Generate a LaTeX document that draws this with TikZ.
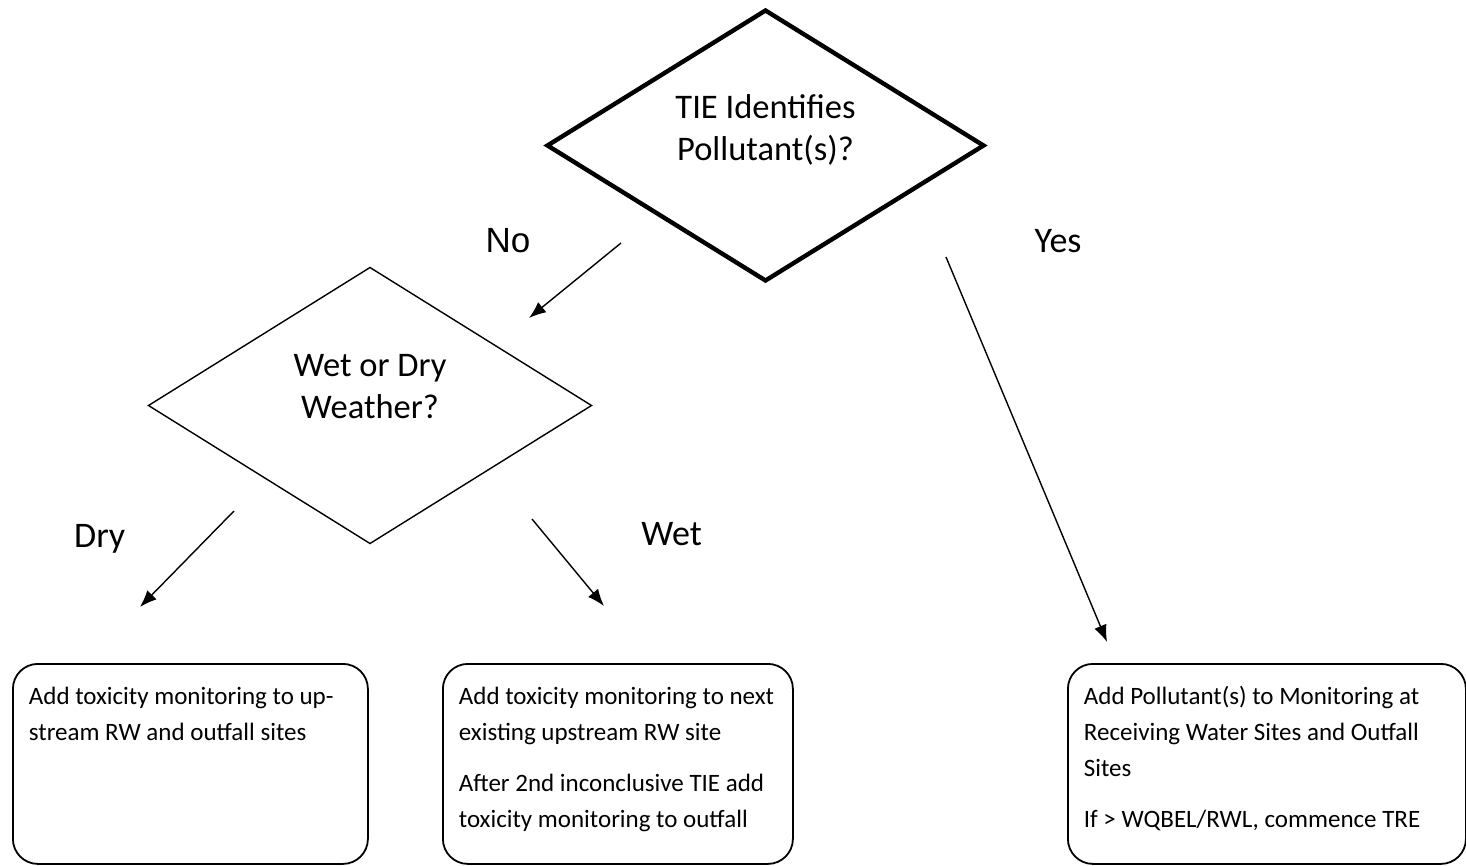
\documentclass[tikz,border=0pt]{standalone}
\usepackage{fontspec}
\setmainfont{Carlito}
\newfontfamily\arialfont{Liberation Sans}
\usetikzlibrary{arrows.meta,shapes.geometric}

\begin{document}
\begin{tikzpicture}[x=1pt, y=-1pt,
 decision/.style={diamond,draw,inner sep=0pt,outer sep=0pt},
 question/.style={align=center,font=\fontsize{34.5}{42}\selectfont},
 action/.style={draw,line width=1.8pt,rounded corners=25pt,anchor=north west,align=flush left,inner xsep=16pt,inner ysep=23pt,text height=18pt,text depth=136pt,font=\fontsize{25}{36}\selectfont},
 answer/.style={anchor=base,font=\fontsize{36}{43}\selectfont},
 >={Latex[length=17pt,width=13pt]}]
\useasboundingbox (0,0) rectangle (1466,865);
\node[decision,line width=4.4pt,minimum width=436pt,minimum height=270pt,
 label={[question,yshift=16pt]center:TIE Identifies\\Pollutant(s)?}] (tie) at (765.5,145.5) {};
\node[decision,line width=1.4pt,minimum width=443pt,minimum height=276pt,
 label={[question,yshift=19pt]center:Wet or Dry\\Weather?}] (weather) at (370,405.5) {};
\node[action,text width=323pt] (upstream) at (12,663) {Add toxicity monitoring to up-\\stream RW and outfall sites};
\node[action,text width=318pt] (nextsite) at (442,663) {Add toxicity monitoring to next\\existing upstream RW site\\[15pt]After 2nd inconclusive TIE add\\toxicity monitoring to outfall};
\node[action,text width=366pt] (addpoll) at (1067,663) {Add Pollutant(s) to Monitoring at\\Receiving Water Sites and Outfall\\Sites\\[15pt]If > WQBEL/RWL, commence TRE};
% branch answers
\node[answer,font={\arialfont\fontsize{35}{42}\selectfont}] (no) at (508,252) {No};
\node[answer] (yes) at (1058,252) {Yes};
\node[answer] (dry) at (99.7,547) {Dry};
\node[answer] (wet) at (671.5,545) {Wet};
\coordinate (no-a) at (621,243); \coordinate (no-b) at (529,318);
\coordinate (yes-a) at (946,257); \coordinate (yes-b) at (1107,642);
\coordinate (dry-a) at (234,511); \coordinate (dry-b) at (140,607);
\coordinate (wet-a) at (532,519); \coordinate (wet-b) at (604,606);
\foreach \a in {no,yes,dry,wet}
 \draw[->,line width=1.4pt] (\a-a)--(\a-b);
\end{tikzpicture}
\end{document}
